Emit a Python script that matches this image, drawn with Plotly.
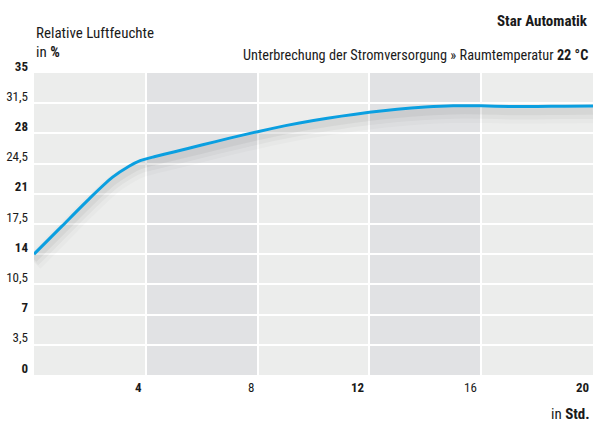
import plotly.graph_objects as go

hours = [0, 1, 2, 2.8, 3.4, 3.8, 4.3, 5, 6, 7, 8, 9, 10, 11, 12, 13, 14, 15, 16, 17, 18, 19, 20]
humidity = [14.0, 17.25, 20.5, 22.9, 24.2, 24.85, 25.3, 25.85, 26.65, 27.45, 28.2, 28.9, 29.5, 30.0,
            30.45, 30.8, 31.05, 31.2, 31.2, 31.12, 31.12, 31.15, 31.17]

y_ticks = [0, 3.5, 7, 10.5, 14, 17.5, 21, 24.5, 28, 31.5, 35]
y_labels = ["<b>0</b>", "3,5", "<b>7</b>", "10,5", "<b>14</b>", "17,5", "<b>21</b>", "24,5",
            "<b>28</b>", "31,5", "<b>35</b>"]
x_ticks = [4, 8, 12, 16, 20]
x_labels = ["<b>4</b>", "8", "<b>12</b>", "16", "<b>20</b>"]
dark_bands = [(4, 8), (12, 16)]

FONT = "Roboto Condensed, Liberation Sans Narrow, sans-serif"
TXT = "#1a1a1a"
LINE = "#0b9fe0"

fig = go.Figure()

# soft shadow under the curve
for w, a, off in [(18, 0.02, 0.95), (12, 0.03, 0.8), (7, 0.045, 0.6)]:
    fig.add_trace(go.Scatter(x=hours, y=[v - off for v in humidity], mode="lines",
                             line=dict(color=f"rgba(0,0,0,{a})", width=w, shape="spline", smoothing=0.6),
                             hoverinfo="skip", showlegend=False))

fig.add_trace(go.Scatter(x=hours, y=humidity, mode="lines",
                         line=dict(color=LINE, width=3, shape="spline", smoothing=0.6),
                         showlegend=False))

for x0, x1 in dark_bands:
    fig.add_shape(type="rect", xref="x", yref="y", x0=x0, x1=x1, y0=0, y1=35,
                  fillcolor="#e1e2e4", line_width=0, layer="below")

annotations = [
    dict(text="Relative Luftfeuchte", xref="paper", yref="paper",
         x=0, y=1, xanchor="left", yanchor="middle", yshift=40, showarrow=False,
         font=dict(size=15, family=FONT, color=TXT)),
    dict(text="in <b>%</b>", xref="paper", yref="paper",
         x=0, y=1, xanchor="left", yanchor="middle", yshift=21, showarrow=False,
         font=dict(size=15, family=FONT, color=TXT)),
    dict(text="<b>Star Automatik</b>", xref="paper", yref="paper", x=1, y=1,
         xanchor="right", yanchor="middle", yshift=52, xshift=-3, showarrow=False,
         font=dict(size=15, family=FONT, color=TXT)),
    dict(text="Unterbrechung der Stromversorgung » Raumtemperatur <b>22 °C</b>", xref="paper",
         yref="paper", x=1, y=1, xanchor="right", yanchor="middle", yshift=18, xshift=-3,
         showarrow=False, font=dict(size=14.3, family=FONT, color=TXT)),
    dict(text="in <b>Std.</b>", xref="paper", yref="paper", x=1, y=0, xanchor="right",
         yanchor="middle", yshift=-39, xshift=-1, showarrow=False,
         font=dict(size=15, family=FONT, color=TXT)),
]
# x tick labels, right-aligned against their gridline
for v, lab in zip(x_ticks, x_labels):
    annotations.append(dict(text=lab, xref="x", yref="paper", x=v, y=0, xanchor="right",
                            yanchor="middle", xshift=-2, yshift=-12, showarrow=False,
                            font=dict(size=13, family=FONT, color=TXT)))

fig.update_layout(
    width=593, height=425,
    margin=dict(l=34, r=0, t=73, b=50),
    paper_bgcolor="white",
    plot_bgcolor="#ecedec",
    font=dict(family=FONT, color=TXT, size=14),
    xaxis=dict(range=[0, 20], tickvals=x_ticks, showticklabels=False, showgrid=True,
               gridcolor="white", gridwidth=2, zeroline=False, showline=False,
               ticks="", automargin=False),
    yaxis=dict(range=[0, 35], tickvals=y_ticks, ticktext=y_labels, showgrid=True,
               gridcolor="white", gridwidth=2, zeroline=False, showline=False,
               ticks="", ticklabelshift=-7, ticklabelstandoff=5, automargin=False,
               tickfont=dict(size=13, family=FONT, color=TXT)),
    annotations=annotations,
)

fig.write_html("out.html", config={"displayModeBar": False},
               post_script="document.body.style.margin='0';")
